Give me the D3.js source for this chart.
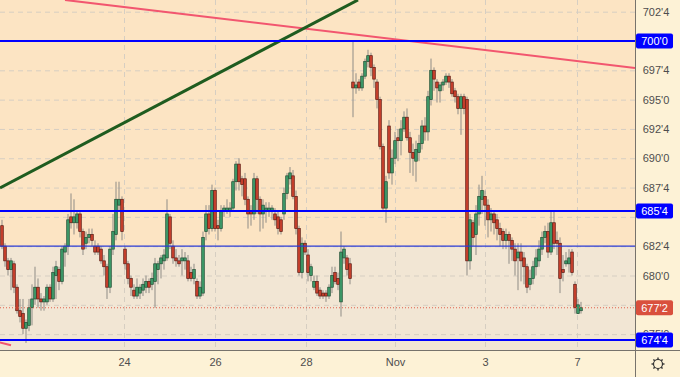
<!DOCTYPE html>
<html>
<head>
<meta charset="utf-8">
<script src="https://cdn.jsdelivr.net/npm/d3@7"></script>
<style>
  html, body { margin: 0; padding: 0; background: #fdf2d6; }
  svg { display: block; font-family: "Liberation Sans", Arial, sans-serif; }
</style>
</head>
<body>
<script>
// hourly bars, Oct 21 - Nov 7
var opens = [
  684.25,682.5,681.25,680.5,681,679,677,676.75,675.5,675.75,
  677.25,678,679,678,677.75,677.75,679,678,680,680.5,
  679.5,682,682.5,685,684.5,684.5,685.25,683.75,682.75,683.25,
  683.5,682.5,682.5,682.25,681.25,680.75,679,682.25,683.5,686,
  686.5,682.25,681,679.75,678.75,678.25,678.5,678.75,679,679.5,
  679.25,679.5,680.5,681,681.25,681.5,685,682.5,681.5,681.25,
  681.25,681.25,681.25,680.25,679.75,679.5,678.25,678.5,683.75,685.25,
  684,687.25,684.25,684,685.5,685.5,685.5,685.75,688,689.5,
  688.25,688.25,686.5,685.5,685.25,688.25,686.5,685.25,685.5,685.5,
  685.5,685.25,685,684.75,685.25,687,688.25,688.5,686.75,684,
  680.25,682.75,681.75,680,679,679.5,678.75,678.5,678.5,678.25,
  679,680.25,679.75,677.75,681.5,681.5,681,696.5,696,696.5,
  696,697,698.25,698.75,697.75,696.5,695,691,685.75,692.75,
  688.75,690,691.75,691.5,692.5,693.5,691.75,690.5,689.75,690.5,
  691.25,692.75,692.25,695,697.5,696.5,695.75,696.25,696.5,697,
  696.5,695.75,695.25,694.25,695.25,695,681.25,684.5,683.5,685.25,
  686.5,686.75,686,684.75,685.25,684.75,684,683.75,683,683.5,
  683,682.25,681.5,682,681.5,680.75,679.25,679.75,680.75,681.25,
  682.25,683.25,683.75,682,684.5,683,682.75,680.5,681,681,
  682,679.25,676.75,677
];
var highs = [
  684.75,682.75,681.5,681.5,681.25,679.25,678,678,676.25,678,
  679.25,680.75,679.75,678.5,678.25,679.25,679.25,680.75,681.25,680.75,
  682.5,682.75,685.25,687,686.5,685.5,685.5,684,683.75,684,
  684,683,682.75,682.5,681.75,681,682.5,685.25,688,688,
  686.75,682.5,681.25,680,679.25,679.75,679.25,679.75,680,679.75,
  680.25,681.5,681.25,681.75,682.25,686.5,685.25,683,682.25,681.75,
  682.25,682,681.75,680.75,681,679.75,679.5,683.75,686,686,
  687.75,687.5,684.75,686,686,686.5,686.25,688.25,689.75,690,
  688.5,688.75,686.75,686,688.75,688.5,686.75,686.5,686.25,686.25,
  686,685.75,685.5,685,687.5,688.75,689.25,689,687.25,684.25,
  683.25,683,682.25,681,680,680,679,678.75,678.75,679.25,
  680.75,680.75,680.25,683.75,682.5,681.75,681.5,700,697.25,696.75,
  697.25,698.5,699.25,699,698,696.75,695.25,691.25,688.5,693.25,
  690.75,692.25,692.5,693.25,694,694.25,692.25,691.25,691.5,692,
  693.25,693.5,695.75,698.5,697.75,696.75,696.5,696.75,697.25,697.25,
  696.75,696,695.5,695.5,695.5,695.25,685.25,684.75,686,687.75,
  688.5,687.25,686.5,685.75,685.5,685.25,684.5,684,684,683.75,
  683.25,682.75,682.75,682.75,682,681,680.5,681.25,682.25,683,
  683.75,684.25,684.5,685.5,685.5,683.75,683.25,681.75,682,682.25,
  682.25,679.5,678,677.75
];
var lows = [
  682.25,680.75,680,678.75,678.5,676.75,676,675,674.25,675.25,
  675.75,677.5,677.25,677,677,677.5,677.75,677.75,678,678.75,
  679.25,680.75,681.75,684,683.5,684,683.25,681.75,682.25,682.75,
  682.5,681.75,681.75,681,680,678,678.5,681.75,683,685.5,
  683,680.5,679.25,678.25,678,678,678,678.25,678.5,678.5,
  678.75,677.25,679.25,679.75,680.5,681.25,682.25,681,680.75,680.75,
  680,680.5,679.5,679.5,679.25,678,678,678.25,683,683.5,
  683.75,683.75,683,683.75,685,685.25,685,685.5,687.25,687.25,
  686.75,686,684,684.25,684.75,685.25,683.75,684,684.5,685,
  684.75,684.25,683.5,683.5,684.75,686.5,687.75,686.5,683.5,680,
  679.75,681.75,679.5,679.5,678.75,678.25,678,678,677.75,678,
  678.5,679.25,678.75,676.5,681,680,679.25,693.5,695.5,695.75,
  695.75,696.75,697.75,697,696,694.25,690.75,685.5,684.5,688.25,
  687.75,689.5,689.75,690.25,692.25,691.5,688.75,688.5,688,689.75,
  690.75,691.5,691.5,694.5,695.75,694.75,694.75,695.75,696.25,696,
  695.25,694.75,693.75,692,693.75,680,680.5,682.5,681.75,684.25,
  685.25,684.25,683.25,683.75,683.5,683,682.5,682.25,682.25,681,
  681.25,680,678.75,679.5,679.25,678.5,678.75,679.25,680,680.75,
  681.75,682.75,681.5,681.75,682.25,681.75,678.5,679.5,680.75,680.25,
  680,676.75,676.75,676.75
];
var closes = [
  682.5,681.25,680.5,681.25,679,677,676.5,675.5,676,677.25,
  678,679,678,677.75,678,679,678,680.25,680.75,679.5,
  682.25,682.5,684.75,684.5,685,685.25,683.75,682.25,683.25,683.5,
  683,682,682,681.25,680.75,679,682.25,683.75,686.5,686.5,
  683.75,681,679.75,679,678.25,679,679,679.25,679.5,679,
  679.75,681,681,681.5,681.75,685.25,682.75,681.5,681.25,681,
  681.5,681.5,679.75,679.75,680.5,678.25,679,683.25,685.25,684,
  687.25,684,684,685.5,685.75,685.75,685.75,688,689.5,688,
  687.75,686.5,685.25,685.25,688.25,686.5,685.25,686,685.75,685.75,
  685.75,684.75,684,683.75,687,688.5,688.75,686.75,684,680.25,
  682.75,682,680.25,680.75,679.5,678.5,678.25,678.25,678.25,679,
  680,679.5,679.25,682,682.25,680.5,679.75,696,696.25,696,
  697,698.25,698.75,697.75,696.75,695,691,685.75,688,688.75,
  690,691.5,691.5,692.5,693.5,691.75,690.5,690,690.75,691.25,
  692.75,692.25,695.25,697.5,696.75,696,696.25,696.5,697,696.5,
  695.5,695.25,694.25,695.25,694.25,681.25,684.75,683.25,685.25,686.75,
  687.25,686,684.75,685.25,684.5,684,683.5,683,683.5,683,
  682.25,681.25,682,681.25,680.75,679,679.75,680.75,681.5,682.25,
  683.25,683.75,682,684.5,682.75,682.75,679.75,680.25,681.25,681.5,
  680.25,677.25,677.5,677.25
];

var priceTicks = [702.5, 700, 697.5, 695, 692.5, 690, 687.5, 685, 682.5, 680, 677.5, 675];
var levelPrices = [700, 685.5, 674.5];
var zonePrice = 682.5;
var lastPrice = 677.25;
var dayTicks = [40.67, 71, 101.33, 131, 161, 191.67];
var dayLabels = ["24", "26", "28", "Nov", "3", "7"];
var redTrend = [[21, 703.5], [211, 697.7]];
var redTrend2 = [[-1, 674.3], [3, 674.05]];
var greenTrend = [[-0.67, 687.47], [118.67, 703.5]];

var W = 680, H = 377, plotW = 635, plotH = 350;

var x = d3.scaleLinear().domain([0, opens.length - 1]).range([2, 581]);
var y = d3.scaleLinear().domain([700, 674.5]).range([41, 340]);

function fmt(p){
	var i = Math.floor(p);
	return i + "'" + Math.round((p - i) * 8);
}

var svg = d3.select("body").append("svg").attr("width", W).attr("height", H);
svg.append("rect").attr("width", W).attr("height", H).attr("fill", "#fdf2d6");

var defs = svg.append("defs");
defs.append("clipPath").attr("id", "clip")
	.append("rect").attr("width", plotW).attr("height", plotH);

var plot = svg.append("g").attr("clip-path", "url(#clip)");
plot.append("rect").attr("width", plotW).attr("height", plotH).attr("fill", "#fce4c3");
plot.append("rect")
	.attr("y", y(zonePrice)).attr("width", plotW).attr("height", plotH - y(zonePrice))
	.attr("fill", "#f2e6d4");

// grid
var gy = plot.append("g").call(d3.axisRight(y).tickValues(priceTicks).tickSize(plotW).tickFormat(""));
var gx = plot.append("g").call(d3.axisBottom(x).tickValues(dayTicks).tickSize(plotH).tickFormat(""));
[gy, gx].forEach(function(g){
	g.select(".domain").remove();
	g.selectAll("line").attr("stroke", "#d6cec2").attr("stroke-dasharray", "5,4");
});

// candles
var idx = d3.range(opens.length);
plot.append("g").selectAll("line").data(idx).enter().append("line")
	.attr("x1", function(i){ return x(i); }).attr("x2", function(i){ return x(i); })
	.attr("y1", function(i){ return y(highs[i]); }).attr("y2", function(i){ return y(lows[i]); })
	.attr("stroke", "#8f8c86").attr("stroke-width", 1);
plot.append("g").selectAll("rect").data(idx).enter().append("rect")
	.attr("x", function(i){ return x(i) - 1.3; })
	.attr("width", 2.6)
	.attr("y", function(i){ return y(Math.max(opens[i], closes[i])); })
	.attr("height", function(i){ return Math.max(1, Math.abs(y(opens[i]) - y(closes[i]))); })
	.attr("fill", function(i){ return closes[i] >= opens[i] ? "#3d9a68" : "#c9402e"; })
	.attr("stroke", function(i){ return closes[i] >= opens[i] ? "#1f4d33" : "#5c1a12"; })
	.attr("stroke-width", 0.7);

// lines
var line = d3.line().x(function(d){ return x(d[0]); }).y(function(d){ return y(d[1]); });
plot.append("path").attr("d", line(redTrend)).attr("stroke", "#f2566f").attr("stroke-width", 2).attr("fill", "none");
plot.append("path").attr("d", line(redTrend2)).attr("stroke", "#f2566f").attr("stroke-width", 2).attr("fill", "none");
plot.append("path").attr("d", line(greenTrend)).attr("stroke", "#1f5c1f").attr("stroke-width", 3).attr("fill", "none");

svg.append("line").attr("x1", 0).attr("x2", plotW).attr("y1", y(zonePrice)).attr("y2", y(zonePrice))
	.attr("stroke", "#2b3bd6").attr("stroke-width", 1.2);
svg.selectAll(".lvl").data(levelPrices).enter().append("line").attr("class", "lvl")
	.attr("x1", 0).attr("x2", plotW)
	.attr("y1", function(d){ return y(d); }).attr("y2", function(d){ return y(d); })
	.attr("stroke", "#0000ff").attr("stroke-width", 2);
svg.append("line").attr("x1", 0).attr("x2", plotW).attr("y1", y(lastPrice)).attr("y2", y(lastPrice))
	.attr("stroke", "#e0604c").attr("stroke-width", 1).attr("stroke-dasharray", "1,2");

// axes frame
svg.append("line").attr("x1", plotW + 0.5).attr("x2", plotW + 0.5).attr("y1", 0).attr("y2", H).attr("stroke", "#77736c");
svg.append("line").attr("x1", 0).attr("x2", W).attr("y1", plotH + 0.5).attr("y2", plotH + 0.5).attr("stroke", "#77736c");

// price axis: labels under a tag are hidden, the one just above the bottom tag is cut by it
var tags = levelPrices.map(function(p){ return {p: p, c: "#0000ff"}; });
tags.push({p: lastPrice, c: "#d9503d"});
var shownTicks = priceTicks.filter(function(p){
	return !tags.some(function(t){
		var dy = y(p) - y(t.p);
		return Math.abs(dy) < 4 || (dy > 0 && dy < 9);
	});
});
defs.append("clipPath").attr("id", "axclip")
	.append("rect").attr("x", plotW + 1).attr("width", W - plotW).attr("height", y(674.5) - 7.5);

var ya = svg.append("g").attr("clip-path", "url(#axclip)")
	.append("g").attr("transform", "translate(" + (plotW + 1) + ",0)")
	.call(d3.axisRight(y).tickValues(shownTicks).tickSize(0).tickFormat(fmt));
ya.select(".domain").remove();
ya.selectAll("text").attr("x", 20).attr("text-anchor", "middle")
	.attr("fill", "#4d4d4d").style("font-size", "11px");

var tg = svg.selectAll(".tag").data(tags).enter().append("g").attr("class", "tag");
tg.append("rect").attr("x", plotW + 1).attr("width", 37).attr("height", 15).attr("rx", 2)
	.attr("y", function(d){ return y(d.p) - 7.5; })
	.attr("fill", function(d){ return d.c; });
tg.append("text").attr("x", plotW + 19.5).attr("y", function(d){ return y(d.p) + 4; })
	.attr("text-anchor", "middle").attr("fill", "#fff").style("font-size", "11px")
	.text(function(d){ return fmt(d.p); });

// time axis
var xa = svg.append("g").attr("transform", "translate(0," + (plotH + 1) + ")")
	.call(d3.axisBottom(x).tickValues(dayTicks).tickSize(0).tickPadding(7)
		.tickFormat(function(d, i){ return dayLabels[i]; }));
xa.select(".domain").remove();
xa.selectAll("text").attr("fill", "#4d4d4d").style("font-size", "11px");

// settings gear
var gear = svg.append("g").attr("transform", "translate(658,364)");
gear.append("circle").attr("r", 4.5).attr("fill", "none").attr("stroke", "#333").attr("stroke-width", 1.2);
gear.selectAll("line").data(d3.range(8)).enter().append("line")
	.attr("x1", function(d){ return 4.5 * Math.cos(d * Math.PI / 4); })
	.attr("y1", function(d){ return 4.5 * Math.sin(d * Math.PI / 4); })
	.attr("x2", function(d){ return 6.5 * Math.cos(d * Math.PI / 4); })
	.attr("y2", function(d){ return 6.5 * Math.sin(d * Math.PI / 4); })
	.attr("stroke", "#333").attr("stroke-width", 1.4);
</script>
</body>
</html>
